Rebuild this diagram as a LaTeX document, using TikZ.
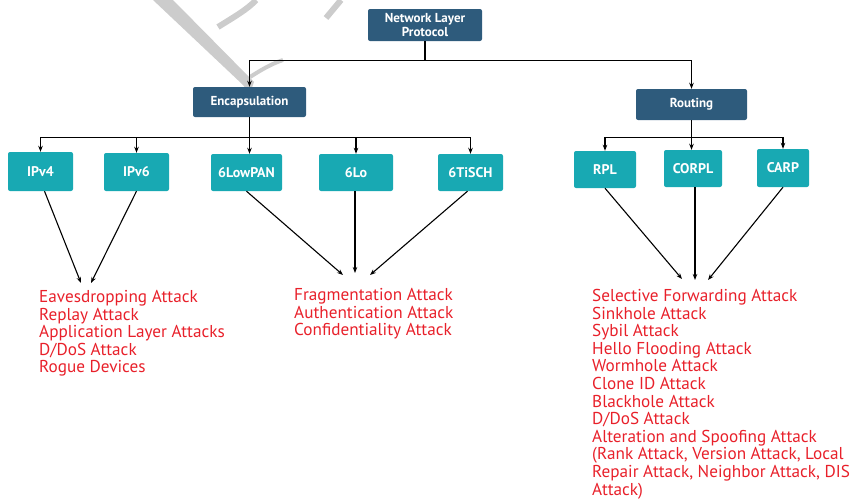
\documentclass[tikz,border=0pt]{standalone}
\usepackage{fontspec}
\setmainfont{PT Sans}
\usetikzlibrary{arrows.meta}
\definecolor{navy}{HTML}{2E5B7C}
\definecolor{tealbox}{HTML}{18A9B3}
\definecolor{atk}{HTML}{E8202A}
\definecolor{wm}{HTML}{CCCCCC}
\begin{document}
\begin{tikzpicture}[x=1pt,y=-1pt,
  hbox/.style={fill=navy, rounded corners=2pt, text=white, align=center, inner sep=0pt,
    font=\bfseries\fontsize{13}{14}\selectfont},
  pbox/.style={fill=tealbox, rounded corners=2pt, text=white, align=center, inner sep=0pt,
    font=\bfseries\fontsize{14}{15}\selectfont},
  link/.style={black, line width=1.1pt},
  arr/.style={link, -{Stealth[length=6pt,width=4.5pt]}},
  atklist/.style={text=atk, align=left, anchor=north west, inner sep=0pt,
    font=\fontsize{17.2}{17.6}\selectfont}]
\useasboundingbox (0,0) rectangle (853,501);

% faint watermark strokes
\fill[wm] (153,0) -- (173,0) -- (254,82) -- (250,93) -- (242,84) -- cycle;
\draw[wm, line width=6pt] (218,27) .. controls (234,17) and (248,9) .. (256,0);
\draw[wm, line width=4pt] (250,77) .. controls (261,70) and (271,64) .. (283,60);
\draw[wm, line width=6pt] (326,18) -- (341,0);

% protocol hierarchy
\node[hbox, minimum width=114pt, minimum height=32pt] (nlp) at (425,25) {Network Layer\\Protocol};
\node[hbox, minimum width=113pt, minimum height=30pt] (enc) at (249.5,102) {Encapsulation};
\node[hbox, minimum width=111pt, minimum height=31pt] (rout) at (691.5,104.5) {Routing};

\node[pbox, minimum width=65pt, minimum height=39pt] (ipv4) at (40.5,171.5) {IPv4};
\node[pbox, minimum width=65pt, minimum height=38pt] (ipv6) at (136.5,172) {IPv6};
\node[pbox, minimum width=71pt, minimum height=37pt] (lowpan) at (246.5,172.5) {6LowPAN};
\node[pbox, minimum width=74pt, minimum height=37pt] (sixlo) at (356,172.5) {6Lo};
\node[pbox, minimum width=65pt, minimum height=37pt] (tisch) at (470.5,172.5) {6TiSCH};

\node[pbox, minimum width=62pt, minimum height=37pt] (rpl) at (605,169.5) {RPL};
\node[pbox, minimum width=58pt, minimum height=37pt] (corpl) at (693,168.5) {CORPL};
\node[pbox, minimum width=52pt, minimum height=38pt] (carp) at (783,168) {CARP};

% tree connectors
\draw[link] (nlp.south) -- ++(0,19) coordinate (j1);
\draw[arr] (j1) -| (enc.north);
\draw[arr] (j1) -| (rout.north);

\draw[link] (enc.south) -- ++(0,20) coordinate (j2);
\draw[arr] (j2) -| (ipv4.north);
\draw[arr] (j2) -| (ipv6.north);
\draw[arr] (j2) -- (j2 |- lowpan.north);
\draw[arr] (j2) -| (sixlo.north);
\draw[arr] (j2) -| (tisch.north);

\draw[link] (rout.south) -- ++(0,17) coordinate (j3);
\draw[arr] (j3) -| (rpl.north);
\draw[arr] (j3) -- (j3 |- corpl.north);
\draw[arr] (j3) -| (carp.north);

% attack lists
\node[atklist] (l1) at (39,290) {Eavesdropping Attack\\Replay Attack\\Application Layer Attacks\\D/DoS Attack\\Rogue Devices};
\node[atklist] (l2) at (294,288) {Fragmentation Attack\\Authentication Attack\\Confidentiality Attack};
\node[atklist] (l3) at (592,289) {Selective Forwarding Attack\\Sinkhole Attack\\Sybil Attack\\Hello Flooding Attack\\Wormhole Attack\\Clone ID Attack\\Blackhole Attack\\D/DoS Attack\\Alteration and Spoofing Attack\\(Rank Attack, Version Attack, Local\\Repair Attack, Neighbor Attack, DIS\\Attack)};

% arrows towards the attack lists
\coordinate (t1) at (81,283);
\coordinate (t2) at (91,283);
\coordinate (t3) at (343,275);
\coordinate (t4) at (355,273);
\coordinate (t5) at (370,275);
\coordinate (t6) at (682,279);
\coordinate (t7) at (695,280);
\coordinate (t8) at (708,280);
\draw[arr] ([xshift=4pt]ipv4.south) -- (t1);
\draw[arr] (ipv6.south) -- (t2);
\draw[arr] (lowpan.south) -- (t3);
\draw[arr] (sixlo.south -| t4) -- (t4);
\draw[arr] ([xshift=-3pt]tisch.south) -- (t5);
\draw[arr] (rpl.south) -- (t6);
\draw[arr] (corpl.south -| t7) -- (t7);
\draw[arr] (carp.south) -- (t8);
\end{tikzpicture}
\end{document}
